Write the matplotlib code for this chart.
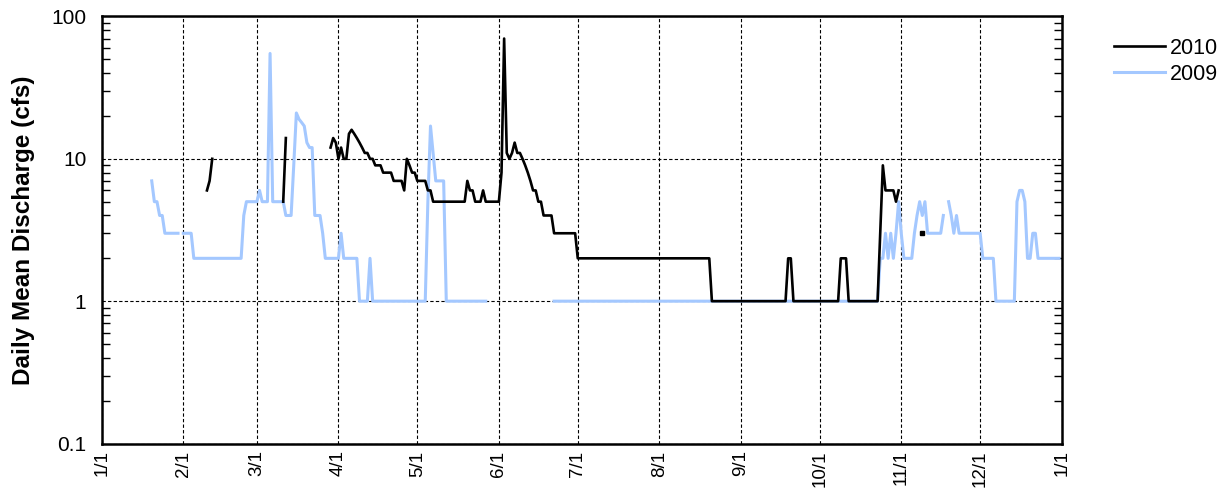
import numpy as np
import matplotlib
matplotlib.use("Agg")
import matplotlib.pyplot as plt
from matplotlib.ticker import FixedLocator, LogLocator, NullFormatter, FuncFormatter

plt.rcParams['font.family'] = ['Liberation Sans', 'DejaVu Sans']

nan = np.nan

# daily mean discharge (cfs), run-length coded from Jan 1: value and number of days, nan = no record
q2010_vals = [nan, 6, 7, 10, nan, 5, 14, nan, 12, 14, 13, 10, 12, 10, 15, 16, 15, 14, 13, 12,
              11, 10, 9, 8, 7, 6, 10, 9, 8, 7, 6, 5, 7, 6, 5, 6, 5, 8, 70, 11, 10, 11, 13, 11,
              10, 9, 8, 7, 6, 5, 4, 3, 2, 1, 2, 1, 2, 1, 3, 9, 6, 5, 6, nan, 3, nan]
q2010_days = [40, 1, 1, 1, 26, 1, 1, 16, 1, 1, 1, 1, 1, 2, 1, 1, 1, 1, 1, 1,
              2, 2, 3, 4, 4, 1, 1, 1, 2, 4, 2, 13, 1, 2, 3, 1, 6, 1, 1, 1, 1, 1, 1, 2,
              1, 1, 1, 1, 2, 2, 4, 9, 51, 29, 2, 18, 3, 12, 1, 1, 4, 1, 1, 8, 1, 52]

q2009_vals = [nan, 7, 5, 4, 3, nan, 3, 2, 4, 5, 6, 5, 55, 5, 4, 9, 21, 19, 18, 17, 13, 12, 4, 3,
              2, 3, 2, 1, 2, 1, 5, 17, 11, 7, 1, nan, 1, 2, 3, 2, 3, 2, 3, 5, 3, 2, 3, 4, 5, 4,
              5, 3, 4, nan, 5, 4, 3, 4, 3, 2, 1, 5, 6, 5, 2, 3, 2]
q2009_days = [19, 1, 2, 2, 6, 1, 4, 19, 1, 5, 1, 3, 1, 5, 3, 1, 1, 1, 1, 1, 1, 2, 3, 1,
              6, 1, 6, 4, 1, 21, 1, 1, 1, 4, 16, 25, 124, 2, 1, 1, 1, 1, 1, 1, 1, 4, 1, 1, 1, 1,
              1, 6, 1, 1, 1, 1, 1, 1, 9, 5, 8, 1, 2, 1, 2, 2, 9]

month_ticks = [0, 31, 59, 90, 120, 151, 181, 212, 243, 273, 304, 334, 365]
month_labels = ['1/1', '2/1', '3/1', '4/1', '5/1', '6/1', '7/1', '8/1', '9/1', '10/1',
                '11/1', '12/1', '1/1']

q2010 = np.repeat(np.array(q2010_vals, dtype=float), q2010_days)
q2009 = np.repeat(np.array(q2009_vals, dtype=float), q2009_days)
day = np.arange(365)


def lone_points(q):
    # days with a value but no neighbours, which a line alone would not show
    prev = np.r_[nan, q[:-1]]
    nxt = np.r_[q[1:], nan]
    return ~np.isnan(q) & np.isnan(prev) & np.isnan(nxt)


fig = plt.figure(figsize=(12.23, 4.94), dpi=100)
ax = fig.add_axes([0.0832, 0.1022, 0.7849, 0.8644])

blue = '#a4c8ff'
l09, = ax.plot(day, q2009, color=blue, lw=2.2, zorder=2, label='2009')
m = lone_points(q2009)
ax.plot(day[m], q2009[m], 's', color=blue, ms=2.5, zorder=2)
l10, = ax.plot(day, q2010, color='black', lw=1.9, zorder=3, label='2010')
m = lone_points(q2010)
ax.plot(day[m], q2010[m], 's', color='black', ms=2.5, zorder=3)

ax.set_yscale('log')
ax.set_ylim(0.1, 100)
ax.set_xlim(0, 365)

ax.xaxis.set_major_locator(FixedLocator(month_ticks))
ax.set_xticklabels(month_labels, rotation=90, fontsize=13.5)
ax.tick_params(axis='x', length=0, pad=5)

ax.yaxis.set_major_locator(FixedLocator([0.1, 1, 10, 100]))
ax.yaxis.set_major_formatter(FuncFormatter(lambda v, p: f'{v:g}'))
ax.yaxis.set_minor_locator(LogLocator(base=10, subs=np.arange(2, 10)))
ax.yaxis.set_minor_formatter(NullFormatter())
ax.tick_params(axis='y', which='major', length=0, pad=11, labelsize=15)
ax.tick_params(axis='y', which='minor', direction='in', length=6, width=1.0,
               left=True, right=True)

ax.grid(True, which='major', color='black', linestyle=(0, (3, 2)), linewidth=0.8)
for s in ax.spines.values():
    s.set_linewidth(1.8)

ax.set_ylabel('Daily Mean Discharge (cfs)', fontsize=17.5, fontweight='bold', labelpad=12)

fig.legend(handles=[l10, l09], loc='upper left', bbox_to_anchor=(1105 / 1223, 1 - 29 / 494),
           frameon=False, fontsize=15.5, handlelength=2.37, handletextpad=0.25,
           labelspacing=0.25, borderaxespad=0)

fig.savefig('out.png', dpi=100)
